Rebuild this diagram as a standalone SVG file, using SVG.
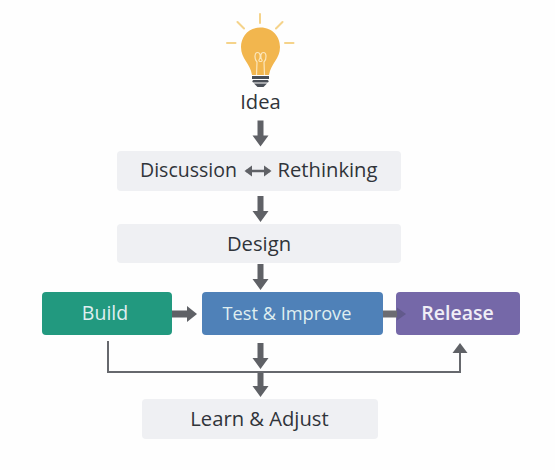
<svg xmlns="http://www.w3.org/2000/svg" width="555" height="470" viewBox="0 0 555 470">
<style>
text{font-family:"Open Sans","Noto Sans","DejaVu Sans",sans-serif;text-anchor:middle}
.d{font-size:20.2px;fill:#30343a}
.w{font-size:18.2px;fill:#dfeef0}
.g{fill:#eff0f3}
.a{fill:#5f6166}
.ray{stroke:#f5d38a;stroke-width:2;stroke-linecap:round;fill:none}
</style>
<defs>
<polygon id="dn" class="a" points="-3,-26 3,-26 3,-11 8,-11 0,0 -8,-11 -3,-11"/>
<polygon id="rt" class="a" points="0,-3.500 15,-3.500 15,-8 25,0 15,8 15,3.500 0,3.500"/>
</defs>
<rect width="555" height="470" fill="#fefefe"/>
<g id="idea">
<path class="ray" d="M260 14V23M237.500 22L244 28.500M282.500 22L276 28.500M227 43H235.500M285 43H293.500"/>
<path d="M260.500 27.500C248 27.500 241 37 241 47C241 59 250 63 252 75H269C271 63 280 59 280 47C280 37 273 27.500 260.500 27.500Z" fill="#f2b64e"/>
<path d="M256.500 75L257 62C254 59 254.500 52.500 257.500 52.500C260.500 52.500 261 57 259 60C258 62 263 62 262 60C260 57 260.500 52.500 263.500 52.500C266.500 52.500 267 59 264 62L264.500 75" fill="none" stroke="#fbe6bb" stroke-width="1.200"/>
<path d="M252 76H269V79H252Z" fill="#4a4f57"/>
<rect x="252.500" y="80" width="16" height="2.500" rx="1.200" fill="#4a4f57"/>
<path d="M254 83.500H267L263.500 87H257.500Z" fill="#4a4f57"/>
<text class="d" x="260.500" y="109">Idea</text>
</g>
<g id="discussion">
<rect class="g" x="117" y="151" width="284" height="40" rx="4"/>
<text class="d" x="188.500" y="177" textLength="97" lengthAdjust="spacingAndGlyphs">Discussion</text>
<path d="M246 171H270" stroke="#5f6166" stroke-width="2.500"/>
<polygon class="a" points="244.500,171 252,165.500 252,176.500"/>
<polygon class="a" points="271.500,171 264,165.500 264,176.500"/>
<text class="d" x="327.500" y="177">Rethinking</text>
</g>
<g id="design">
<rect class="g" x="117" y="224" width="284" height="39" rx="4"/>
<text class="d" x="259" y="250.500">Design</text>
</g>
<g id="build">
<rect x="42" y="292" width="130" height="43" rx="4" fill="#22997f"/>
<text class="w" x="105" y="320" font-size="19.500" style="font-size:19.500px">Build</text>
</g>
<g id="test">
<rect x="202" y="292" width="181" height="43" rx="4" fill="#4f81b8"/>
<text class="w" x="287" y="320">Test &amp; Improve</text>
</g>
<g id="release">
<rect x="396" y="292" width="124" height="43" rx="4" fill="#7568a8"/>
<text class="w" x="457.500" y="320" style="font-size:19.500px;font-weight:600;fill:#f0eef6">Release</text>
</g>
<g id="learn">
<rect class="g" x="142" y="399" width="236" height="40" rx="4"/>
<text class="d" x="259.500" y="426">Learn &amp; Adjust</text>
</g>
<g id="connectors">
<use href="#dn" x="260.500" y="146.500"/>
<use href="#dn" x="260.500" y="222"/>
<use href="#dn" x="260.500" y="290"/>
<use href="#rt" x="172" y="314"/>
<path d="M383 310.500H397V317.500H383Z" fill="#6c6c72"/>
<polygon points="397,307.500 406,314 397,320.500" fill="#625a8c"/>
<use href="#dn" x="260.500" y="369"/>
<use href="#dn" x="260.500" y="397"/>
<path d="M108 341V372H460V350" fill="none" stroke="#66686d" stroke-width="2"/>
<polygon class="a" points="460,343 467.500,353 452.500,353"/>
</g>
</svg>
